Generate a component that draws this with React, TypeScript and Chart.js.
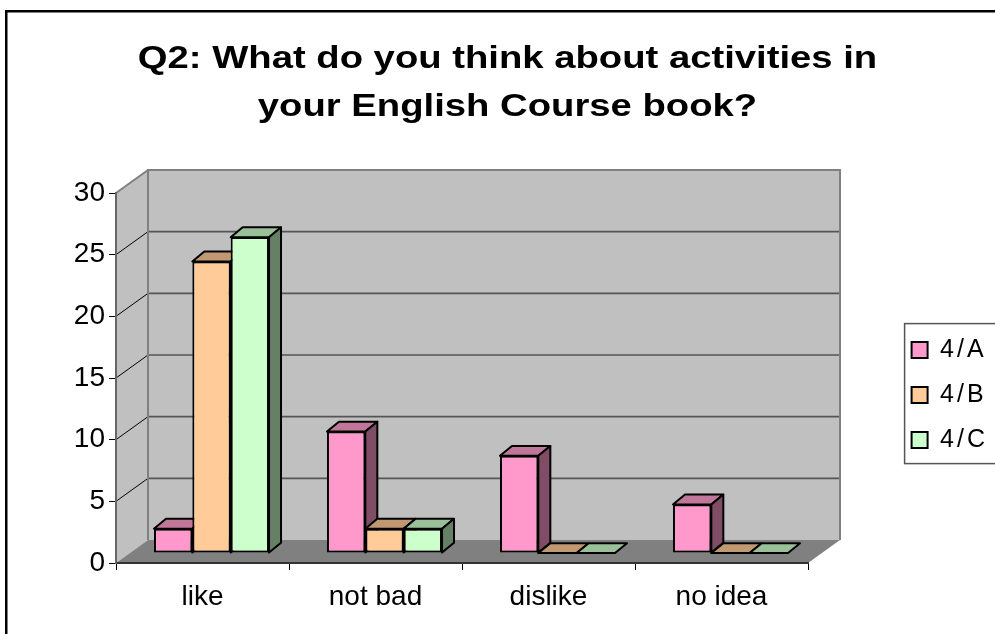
import React, { useEffect, useRef } from 'react';
import { Chart, registerables } from 'chart.js';

Chart.register(...registerables);

// ---- data ----
const categories = ['like', 'not bad', 'dislike', 'no idea'];
const seriesLabels = ['4/A', '4/B', '4/C'];
const values4A = [2, 10, 8, 4];
const values4B = [24, 2, 0, 0];
const values4C = [26, 2, 0, 0];
const yMin = 0;
const yMax = 30;
const yStep = 5;
const titleLines = ['Q2: What do you think about activities in', 'your English Course book?'];

// ---- styles ----
const frontColors = ['#FF99CC', '#FFCC99', '#CCFFCC'];
const topColors = ['#C07799', '#C09973', '#99C099'];
const sideColors = ['#804D66', '#806650', '#668066'];
const FONT = "'Liberation Sans', Arial, sans-serif";
const WALL_DX = 32;
const WALL_DY = -23;
const BAR_SHIFT_X = 9;
const BAR_SHIFT_Y = -10;
const BAR_SCALE_Y = 0.985;
const BAR_DX = 12;
const BAR_DY = -10;
const PLOT_RIGHT = 808;
const TITLE_SX = 1.195;
const LEGEND_SPACING_LAYOUT = '2px';
const LEGEND_SPACING_DRAW = '3px';

const threeD = {
  id: 'threeD',
  beforeLayout(chart: any) {
    chart.ctx.letterSpacing = LEGEND_SPACING_LAYOUT;
  },
  afterLayout(chart: any) {
    chart.ctx.letterSpacing = '0px';
  },
  beforeDraw(chart: any) {
    const ctx = chart.ctx;
    const tb = chart.titleBlock;
    if (tb && !tb.__stretched) {
      const orig = tb.draw.bind(tb);
      tb.draw = (...args: any[]) => {
        const c = chart.ctx;
        c.save();
        c.letterSpacing = '0px';
        const cx = (tb.left + tb.right) / 2;
        c.translate(cx, 0);
        c.scale(TITLE_SX, 1);
        c.translate(-cx, 0);
        orig(...args);
        c.restore();
      };
      tb.__stretched = true;
    }
    ctx.save();
    ctx.strokeStyle = '#000';
    ctx.lineWidth = 2.5;
    ctx.strokeRect(6.25, 11.25, chart.width + 40, chart.height + 40);
    ctx.restore();
    ctx.letterSpacing = LEGEND_SPACING_DRAW;
  },
  beforeDatasetsDraw(chart: any) {
    const ctx = chart.ctx;
    ctx.letterSpacing = '0px';
    const { left: L, right: R } = chart.chartArea;
    const ys = chart.scales.y;
    const T = ys.getPixelForValue(yMax);
    const B = ys.getPixelForValue(yMin);
    ctx.save();
    // back wall
    ctx.fillStyle = '#C0C0C0';
    ctx.fillRect(L + WALL_DX, T + WALL_DY, R - L, B - T);
    // left wall
    ctx.beginPath();
    ctx.moveTo(L, T);
    ctx.lineTo(L + WALL_DX, T + WALL_DY);
    ctx.lineTo(L + WALL_DX, B + WALL_DY);
    ctx.lineTo(L, B);
    ctx.closePath();
    ctx.fill();
    // floor
    ctx.fillStyle = '#808080';
    ctx.beginPath();
    ctx.moveTo(L, B);
    ctx.lineTo(R, B);
    ctx.lineTo(R + WALL_DX, B + WALL_DY);
    ctx.lineTo(L + WALL_DX, B + WALL_DY);
    ctx.closePath();
    ctx.fill();
    // grid lines
    for (const t of ys.ticks) {
      const v = t.value;
      if (v <= yMin || v >= yMax) continue;
      const py = ys.getPixelForValue(v);
      ctx.strokeStyle = '#555555';
      ctx.lineWidth = 1.6;
      ctx.beginPath();
      ctx.moveTo(L + WALL_DX, py + WALL_DY);
      ctx.lineTo(R + WALL_DX, py + WALL_DY);
      ctx.stroke();
      ctx.strokeStyle = '#000';
      ctx.lineWidth = 1;
      ctx.beginPath();
      ctx.moveTo(L, py);
      ctx.lineTo(L + WALL_DX, py + WALL_DY);
      ctx.stroke();
    }
    // wall borders
    ctx.strokeStyle = '#808080';
    ctx.lineWidth = 2;
    ctx.beginPath();
    ctx.moveTo(L + WALL_DX, B + WALL_DY);
    ctx.lineTo(L + WALL_DX, T + WALL_DY);
    ctx.lineTo(R + WALL_DX, T + WALL_DY);
    ctx.lineTo(R + WALL_DX, B + WALL_DY);
    ctx.moveTo(L, T);
    ctx.lineTo(L + WALL_DX, T + WALL_DY);
    ctx.stroke();
    ctx.restore();
  },
  beforeDatasetDraw() {
    return false;
  },
  afterDatasetsDraw(chart: any) {
    const ctx = chart.ctx;
    ctx.letterSpacing = '0px';
    const ys = chart.scales.y;
    const B = ys.getPixelForValue(yMin);
    ctx.save();
    ctx.translate(BAR_SHIFT_X, B + BAR_SHIFT_Y);
    ctx.scale(1, BAR_SCALE_Y);
    ctx.translate(0, -B);
    chart.data.datasets.forEach((_: any, di: number) => {
      const meta = chart.getDatasetMeta(di);
      meta.data.forEach((el: any) => {
        const { x, y, base, width } = el.getProps(['x', 'y', 'base', 'width'], true);
        const l = x - width / 2;
        const r = x + width / 2;
        el.draw(ctx);
        ctx.save();
        ctx.strokeStyle = '#000';
        ctx.lineWidth = 2;
        ctx.lineJoin = 'round';
        // top face
        ctx.fillStyle = topColors[di];
        ctx.beginPath();
        ctx.moveTo(l, y);
        ctx.lineTo(r, y);
        ctx.lineTo(r + BAR_DX, y + BAR_DY);
        ctx.lineTo(l + BAR_DX, y + BAR_DY);
        ctx.closePath();
        ctx.fill();
        ctx.stroke();
        // side face
        if (base - y > 0.5) {
          ctx.fillStyle = sideColors[di];
          ctx.beginPath();
          ctx.moveTo(r, y);
          ctx.lineTo(r + BAR_DX, y + BAR_DY);
          ctx.lineTo(r + BAR_DX, base + BAR_DY);
          ctx.lineTo(r, base);
          ctx.closePath();
          ctx.fill();
          ctx.stroke();
        }
        ctx.restore();
      });
    });
    ctx.restore();
  },
  afterDraw(chart: any) {
    const ctx = chart.ctx;
    const hb = chart.legend?.legendHitBoxes;
    if (!hb || !hb.length) return;
    const x0 = hb[0].left - 7;
    const y0 = hb[0].top - 14;
    const last = hb[hb.length - 1];
    const y1 = last.top + last.height + 11;
    ctx.save();
    ctx.strokeStyle = '#555';
    ctx.lineWidth = 1.5;
    ctx.strokeRect(x0, y0, chart.width - x0 + 20, y1 - y0);
    ctx.restore();
  },
};

export default function App() {
  const ref = useRef<HTMLCanvasElement>(null);
  useEffect(() => {
    const seriesValues = [values4A, values4B, values4C];
    const chart = new Chart(ref.current as HTMLCanvasElement, {
      type: 'bar',
      data: {
        labels: categories,
        datasets: seriesLabels.map((label, i) => ({
          label,
          data: seriesValues[i],
          backgroundColor: frontColors[i],
          borderColor: '#000',
          borderWidth: 2,
          borderSkipped: false,
          categoryPercentage: 0.665,
          barPercentage: 1,
          clip: false as any,
        })),
      },
      options: {
        animation: false,
        responsive: true,
        maintainAspectRatio: false,
        devicePixelRatio: 1,
        events: [],
        layout: { padding: { left: 20, right: 0, top: 0, bottom: 0 } },
        plugins: {
          tooltip: { enabled: false },
          title: {
            display: true,
            text: titleLines,
            color: '#000',
            font: { family: FONT, size: 32, weight: 'bold', lineHeight: 48 / 32 },
            padding: { top: 35, bottom: 62 },
          },
          legend: {
            display: true,
            position: 'right',
            align: 'center',
            title: { display: true, text: ' ', font: { size: 1 }, padding: { top: 0, bottom: 155 } },
            labels: {
              color: '#000',
              font: { family: FONT, size: 25 },
              boxWidth: 16,
              boxHeight: 16,
              padding: 20,
            },
          },
        },
        scales: {
          x: {
            offset: true,
            grid: { display: true, drawOnChartArea: false, drawTicks: true, tickLength: 7, color: '#000', offset: true, z: 1 },
            border: { display: true, color: '#333', width: 2, z: 1 },
            ticks: { z: 1, color: '#000', font: { family: FONT, size: 28 }, padding: 10, maxRotation: 0, autoSkip: false },
            afterFit: (s: any) => { s.height = 71; },
          },
          y: {
            position: 'left',
            min: yMin,
            max: yMax,
            grid: { display: true, drawOnChartArea: false, drawTicks: true, tickLength: 7, color: '#000', z: 1 },
            border: { display: true, color: '#666', width: 2, z: 1 },
            ticks: { z: 1, stepSize: yStep, color: '#000', font: { family: FONT, size: 28 }, padding: 4 },
            afterFit: (s: any) => { s.width = 96; },
          },
          gap: {
            type: 'linear',
            position: 'right',
            display: true,
            grid: { display: false, drawTicks: false },
            border: { display: false },
            ticks: { display: false },
            afterFit: (s: any) => {
              const lw = s.chart.legend ? s.chart.legend.width : 0;
              s.width = Math.max(0, s.chart.width - PLOT_RIGHT - lw);
            },
          },
        },
      } as any,
      plugins: [threeD],
    });
    return () => chart.destroy();
  }, []);
  return (
    <div style={{ position: 'absolute', left: 0, top: 0, width: 995, height: 634 }}>
      <canvas ref={ref} />
    </div>
  );
}
